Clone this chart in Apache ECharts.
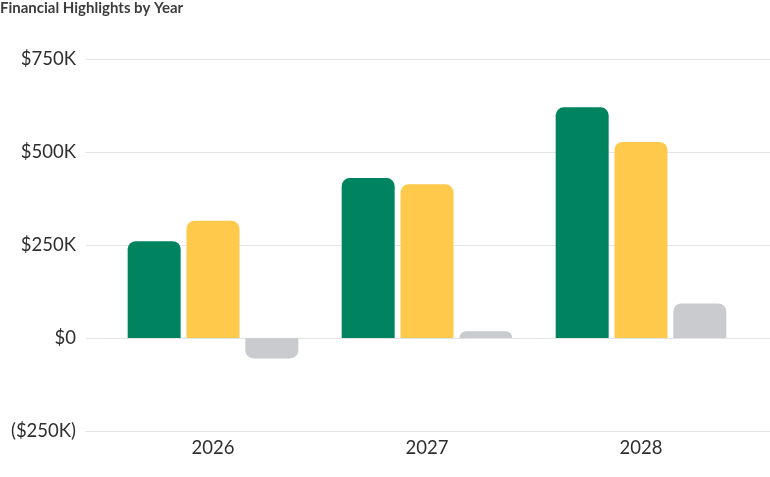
<!DOCTYPE html>
<html><head><meta charset="utf-8">
<script src="https://cdn.jsdelivr.net/npm/echarts@6/dist/echarts.min.js"></script>
<style>html,body{margin:0;padding:0;background:#fff}#c{width:770px;height:477px}</style>
</head><body><div id="c"></div>
<script>
const categories = ['2026', '2027', '2028'];
const seriesA = [260, 430, 620];
const seriesB = [315, 413, 527];
const seriesC = [-55, 18, 93];
const yTicks = [-250, 0, 250, 500, 750];

function fmt(v){ return v < 0 ? '($' + Math.abs(v) + 'K)' : (v === 0 ? '$0' : '$' + v + 'K'); }
function toData(arr){
  return arr.map(v => ({ value: v, itemStyle: { borderRadius: v < 0 ? [0,0,8,8] : [8,8,0,0] } }));
}
const chart = echarts.init(document.getElementById('c'));
const font = 'Lato';
chart.setOption({
  animation: false,
  title: { text: 'Financial Highlights by Year', left: 0, top: 0, padding: [1, 0, 0, 0],
    textStyle: { fontFamily: font, fontSize: 15, fontWeight: 'bold', color: '#3d3d3d' } },
  grid: [
    { left: 86, right: 0, top: 59, height: 372 },
    { left: 106, right: 22, top: 59, height: 372 }
  ],
  xAxis: [
    { gridIndex: 0, type: 'category', data: categories, show: false },
    { gridIndex: 1, type: 'category', data: categories,
      axisLine: { show: false, onZero: false }, axisTick: { show: false },
      axisLabel: { fontFamily: font, fontSize: 18.5, color: '#2e2e2e', margin: 8 } }
  ],
  yAxis: [
    { gridIndex: 0, type: 'value', min: yTicks[0], max: yTicks[yTicks.length-1], interval: 250,
      axisLine: { show: false }, axisTick: { show: false },
      splitLine: { lineStyle: { color: '#e4e4e4', width: 1 } },
      axisLabel: { fontFamily: font, fontSize: 18.5, color: '#2e2e2e', margin: 10, formatter: fmt } },
    { gridIndex: 1, type: 'value', min: yTicks[0], max: yTicks[yTicks.length-1], interval: 250, show: false,
      splitLine: { show: false } }
  ],
  series: [
    { type: 'bar', xAxisIndex: 1, yAxisIndex: 1, data: toData(seriesA), barWidth: 53, barGap: '11%',
      itemStyle: { color: '#00845f' } },
    { type: 'bar', xAxisIndex: 1, yAxisIndex: 1, data: toData(seriesB), barWidth: 53, barGap: '11%',
      itemStyle: { color: '#ffc94b' } },
    { type: 'bar', xAxisIndex: 1, yAxisIndex: 1, data: toData(seriesC), barWidth: 53, barGap: '11%',
      itemStyle: { color: '#c9cbcf' } }
  ]
});
</script></body></html>
